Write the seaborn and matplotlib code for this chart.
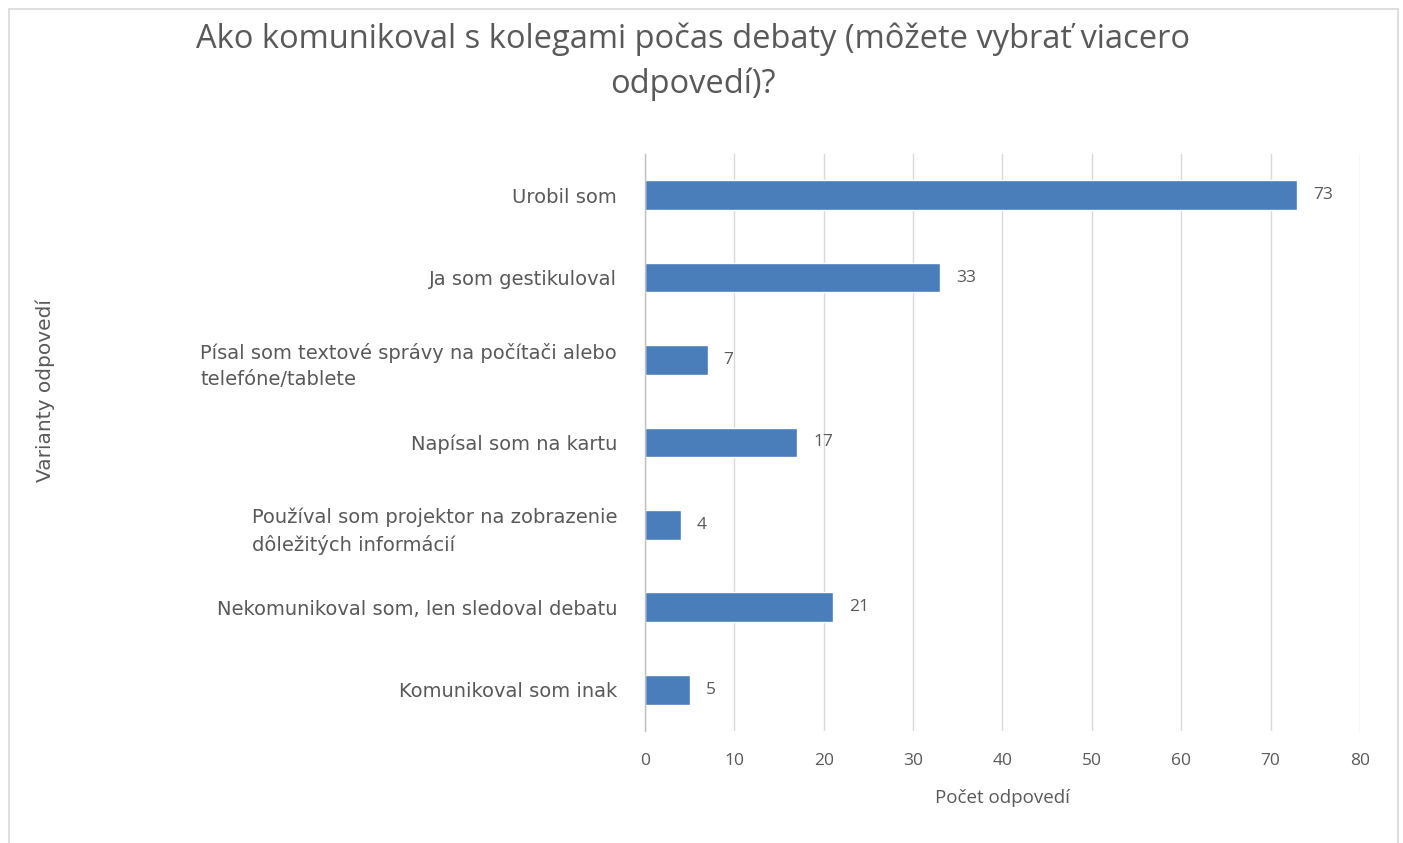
import matplotlib
matplotlib.use("Agg")
import matplotlib.pyplot as plt
import seaborn as sns
import pandas as pd
from matplotlib.patches import Rectangle

categories = [
    "Urobil som",
    "Ja som gestikuloval",
    "Písal som textové správy na počítači alebo\ntelefóne/tablete",
    "Napísal som na kartu",
    "Používal som projektor na zobrazenie\ndôležitých informácií",
    "Nekomunikoval som, len sledoval debatu",
    "Komunikoval som inak",
]
values = [73, 33, 7, 17, 4, 21, 5]
x_ticks = [0, 10, 20, 30, 40, 50, 60, 70, 80]

title = "Ako komunikoval s kolegami počas debaty (môžete vybrať viacero\nodpovedí)?"
xlabel = "Počet odpovedí"
ylabel = "Varianty odpovedí"

sns.set_theme(style="white")
plt.rcParams['font.family'] = ['Open Sans', 'DejaVu Sans']

text_color = "#595959"
bar_color = "#4A7EBB"

df = pd.DataFrame({"cat": categories, "val": values})

fig = plt.figure(figsize=(14.03, 8.43), dpi=100)
ax = fig.add_axes([0.4597, 0.1329, 0.9693 - 0.4597, 0.8173 - 0.1329])

sns.barplot(data=df, x="val", y="cat", orient="h", color=bar_color,
            width=0.36, saturation=1, ax=ax)

ax.set_xlim(0, 80)
ax.set_xticks(x_ticks)
ax.set_xticklabels([str(t) for t in x_ticks], fontsize=12.5, color=text_color)
ax.set_ylim(len(categories) - 0.5, -0.5)
ax.grid(axis="x", color="#D9D9D9", linewidth=1)
ax.set_axisbelow(True)
for s in ["top", "right", "bottom"]:
    ax.spines[s].set_visible(False)
ax.spines["left"].set_color("#BFBFBF")
ax.spines["left"].set_linewidth(1)
ax.tick_params(axis="x", length=0, pad=16)
ax.tick_params(axis="y", length=0, pad=20)

for lab in ax.get_yticklabels():
    lab.set_fontsize(14)
    lab.set_family(['DejaVu Sans'])
    lab.set_color(text_color)
    lab.set_multialignment("left")
    lab.set_linespacing(1.5)

for i, v in enumerate(values):
    ax.text(v + 1.8, i, str(v), va="center", ha="left", fontsize=12.5, color=text_color)

ax.set_xlabel(xlabel, fontsize=13.5, color=text_color, labelpad=14)
ax.set_ylabel(ylabel, fontsize=14.5, color=text_color, labelpad=0,
              family=['DejaVu Sans'])
ax.yaxis.set_label_coords(-0.825, 0.59)

fig.text(0.494, 0.927, title, ha="center", va="center", fontsize=23.5,
         color=text_color, linespacing=1.45)

fig.patches.append(Rectangle((9 / 1403, -0.01), (1398 - 9) / 1403, 1 - 9 / 843 + 0.01,
                             transform=fig.transFigure, fill=False,
                             edgecolor="#D9D9D9", linewidth=1.2))

fig.savefig("out.png", dpi=100, facecolor="white")
